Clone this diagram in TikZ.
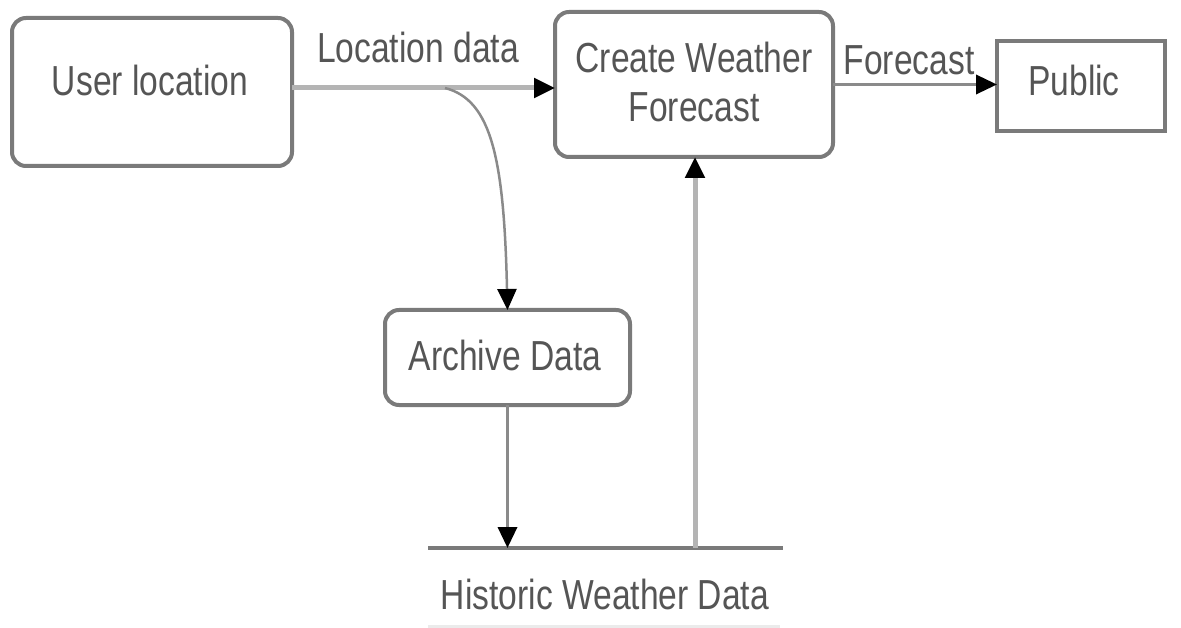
\documentclass[tikz,border=0pt]{standalone}
\usepackage{fontspec}
\newfontfamily\diafont{Liberation Sans}[FakeStretch=0.8]
\usetikzlibrary{arrows.meta}
\definecolor{boxline}{HTML}{7A7A7A}
\definecolor{txt}{HTML}{555555}
\definecolor{flowA}{HTML}{B4B4B4}
\definecolor{flowB}{HTML}{8A8A8A}
\tikzset{
  box/.style={draw=boxline, line width=4pt, rounded corners=14pt, inner sep=0pt, outer sep=0pt},
  plainbox/.style={draw=boxline, line width=4pt, inner sep=0pt, outer sep=0pt},
  lbl/.style={text=txt, inner sep=0pt, font=\diafont\fontsize{42}{49}\selectfont, align=center},
  tip/.style={-{Triangle[length=21pt,width=19pt,color=black]}},
  lightflow/.style={tip, draw=flowA, line width=5pt},
  darkflow/.style={tip, draw=flowB, line width=3.5pt},
  thinflow/.style={tip, draw=flowB, line width=2.5pt},
}
\begin{document}
\begin{tikzpicture}[x=1pt, y=-1pt]
  \useasboundingbox (0,0) rectangle (1181,628);

  % process boxes
  \node[box, minimum width=280pt, minimum height=148pt] (user) at (152,92) {};
  \node[lbl] (usertxt) at (150,80) {User location};

  \node[box, minimum width=278pt, minimum height=145pt] (create) at (694,84.5) {};
  \node[lbl] (createtxt) at (694,82) {Create Weather\\Forecast};

  \node[plainbox, minimum width=168pt, minimum height=90pt] (public) at (1081,86) {};
  \node[lbl] (publictxt) at (1074,80) {Public};

  \node[box, minimum width=245pt, minimum height=95pt] (archive) at (507.5,357.5) {};
  \node[lbl] (archivetxt) at (505,355) {Archive Data};

  % data store
  \coordinate (hl) at (428,548);
  \coordinate (hr) at (783,548);
  \coordinate (hup) at (695,548);
  \draw[boxline, line width=4pt] (hl) -- (hr);
  \node[lbl] (hist) at (605,594) {Historic Weather Data};
  \draw[black!8, line width=3pt] (428,626) -- (780,626);

  % flows
  \draw[lightflow] ([yshift=4pt]user.east) -- ([yshift=4pt]user.east -| create.west);
  \node[lbl] (loclbl) at (418,47) {Location data};

  \coordinate (split) at (445,88);
  \draw[thinflow] (split) .. controls (492,100) and (504,160) .. (archive.north);

  \draw[darkflow] (create.east) -- (create.east -| public.west);
  \node[lbl] (fclbl) at (909,60) {Forecast};

  \draw[darkflow] (archive.south) -- (archive.south |- hl);
  \draw[lightflow] (hup) -- (hup |- create.south);
\end{tikzpicture}
\end{document}
